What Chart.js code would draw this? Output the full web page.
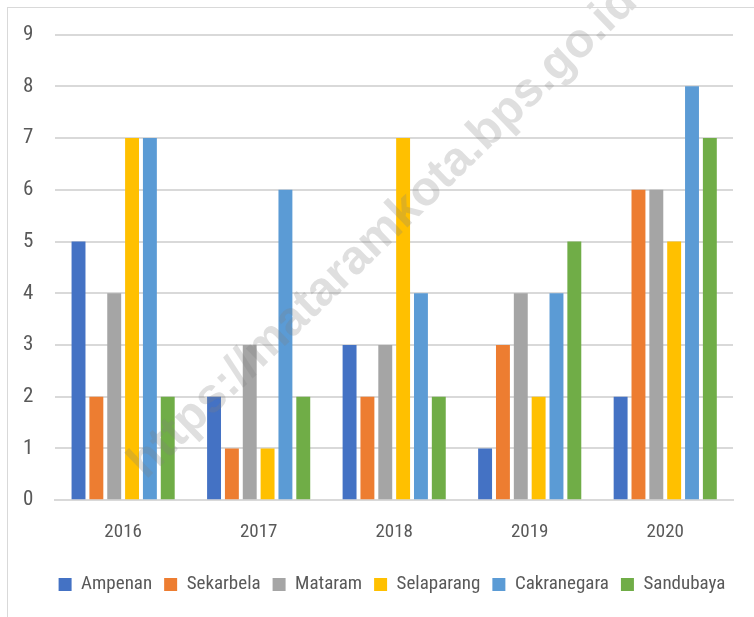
<!DOCTYPE html>
<html>
<head>
<meta charset="utf-8">
<script src="https://cdn.jsdelivr.net/npm/chart.js@4"></script>
<style>
  html, body { margin: 0; padding: 0; background: #fff; }
  #wrap { position: absolute; left: 0; top: 0; width: 754px; height: 617px; }
  #frame { position: absolute; left: 7px; top: 7px; width: 760px; height: 620px;
           border-left: 1px solid #d9d9d9; border-top: 1px solid #d9d9d9; }
</style>
</head>
<body>
<div id="wrap">
  <div id="frame"></div>
  <canvas id="chart" width="754" height="617"></canvas>
</div>
<script>
// kategori tahun dan nilai per kecamatan
const years = ['2016', '2017', '2018', '2019', '2020'];
const ampenan = [5, 2, 3, 1, 2];
const sekarbela = [2, 1, 2, 3, 6];
const mataram = [4, 3, 3, 4, 6];
const selaparang = [7, 1, 7, 2, 5];
const cakranegara = [7, 6, 4, 4, 8];
const sandubaya = [2, 2, 2, 5, 7];
const yTicks = [0, 1, 2, 3, 4, 5, 6, 7, 8, 9];
const watermark = 'https://mataramkota.bps.go.id';

const fontFamily = "'Roboto Condensed', 'Liberation Sans', sans-serif";
const textColor = '#595959';

function ds(label, data, color) {
    return {
        label: label,
        data: data,
        backgroundColor: color,
        borderWidth: 0,
        categoryPercentage: 0.79,
        barPercentage: 0.78
    };
}

// tulisan watermark miring
const watermarkPlugin = {
    id: 'watermark',
    afterDatasetsDraw(chart) {
        const ctx = chart.ctx;
        ctx.save();
        ctx.translate(146, 480);
        ctx.rotate(-44 * Math.PI / 180);
        ctx.font = "bold 48px 'Liberation Sans', sans-serif";
        ctx.fillStyle = 'rgba(128, 128, 128, 0.25)';
        ctx.textAlign = 'left';
        ctx.textBaseline = 'alphabetic';
        ctx.fillText(watermark, 0, 0);
        ctx.restore();
    }
};

// geser legenda sedikit ke kanan dan ke bawah
const legendShift = {
    id: 'legendShift',
    afterLayout(chart) {
        const lg = chart.legend;
        lg.left += 25; lg.right += 25;
        lg.top += 6; lg.bottom += 6;
    }
};

new Chart(document.getElementById('chart'), {
    type: 'bar',
    data: {
        labels: years,
        datasets: [
            ds('Ampenan', ampenan, '#4472C4'),
            ds('Sekarbela', sekarbela, '#ED7D31'),
            ds('Mataram', mataram, '#A5A5A5'),
            ds('Selaparang', selaparang, '#FFC000'),
            ds('Cakranegara', cakranegara, '#5B9BD5'),
            ds('Sandubaya', sandubaya, '#70AD47')
        ]
    },
    options: {
        responsive: false,
        animation: false,
        layout: { padding: { left: 1, right: 21, top: 31, bottom: 19 } },
        plugins: {
            legend: {
                position: 'bottom',
                labels: {
                    boxWidth: 13,
                    boxHeight: 13,
                    padding: 12,
                    color: textColor,
                    font: { family: fontFamily, size: 19 }
                }
            },
            tooltip: { enabled: false }
        },
        scales: {
            x: {
                grid: { display: false },
                border: { color: '#d9d9d9', width: 2 },
                ticks: { color: textColor, padding: 13, font: { family: fontFamily, size: 19 } }
            },
            y: {
                min: 0,
                max: 9,
                afterBuildTicks(axis) { axis.ticks = yTicks.map(v => ({ value: v })); },
                grid: { color: '#d9d9d9', lineWidth: 2, drawTicks: false },
                border: { display: false },
                ticks: { color: textColor, padding: 22, font: { family: fontFamily, size: 21 } }
            }
        }
    },
    plugins: [watermarkPlugin, legendShift]
});
</script>
</body>
</html>
